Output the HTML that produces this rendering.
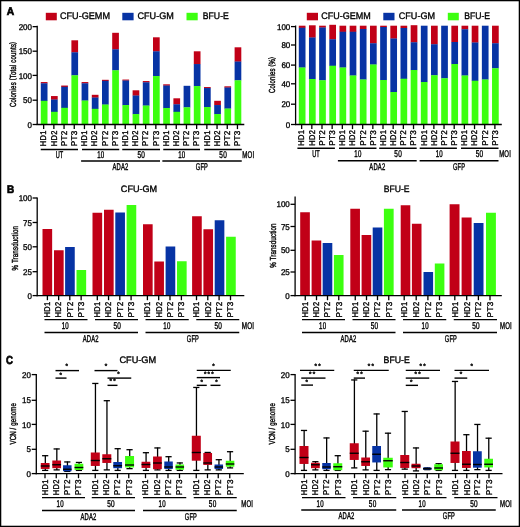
<!DOCTYPE html>
<html lang="en">
<head>
<meta charset="utf-8">
<title>Colony assays, transduction and VCN</title>
<style>
html,body{margin:0;padding:0;background:#fff;}
body{width:520px;height:527px;overflow:hidden;}
svg{display:block;}
svg text.cb{stroke-width:0.42px;letter-spacing:0.3px;}
svg text.yt{stroke-width:0.38px;letter-spacing:0.2px;}
svg text.nm{stroke-width:0.32px;}
svg text.tk{stroke-width:0.36px;letter-spacing:0.4px;}
svg text{font-family:"Liberation Sans",Arial,Helvetica,sans-serif;stroke:#000;stroke-width:0.36px;text-rendering:geometricPrecision;}
</style>
</head>
<body>
<svg width="520" height="527" viewBox="0 0 520 527">
<defs>
<filter id="soft" filterUnits="userSpaceOnUse" x="-12" y="-12" width="544" height="551" color-interpolation-filters="sRGB">
<feGaussianBlur stdDeviation="0.4"/>
</filter>
</defs>
<rect x="-10" y="-10" width="540" height="547" fill="#fff"/>
<g id="figure" filter="url(#soft)">
<rect x="-10" y="-10" width="540" height="547" fill="#fff"/>
<!-- Panel A: total counts -->
<rect x="40.8" y="82.05" width="6.7" height="1.45" fill="#c10017"/>
<rect x="40.8" y="83.3" width="6.7" height="17.7" fill="#0733a4"/>
<rect x="40.8" y="100.8" width="6.7" height="23.7" fill="#3dff10"/>
<rect x="51" y="96.05" width="6.7" height="3.7" fill="#c10017"/>
<rect x="51" y="99.55" width="6.7" height="12.45" fill="#0733a4"/>
<rect x="51" y="111.8" width="6.7" height="12.7" fill="#3dff10"/>
<rect x="61.2" y="85.55" width="6.7" height="1.45" fill="#c10017"/>
<rect x="61.2" y="86.8" width="6.7" height="21.2" fill="#0733a4"/>
<rect x="61.2" y="107.8" width="6.7" height="16.7" fill="#3dff10"/>
<rect x="71.4" y="40.3" width="6.7" height="12.2" fill="#c10017"/>
<rect x="71.4" y="52.3" width="6.7" height="23.2" fill="#0733a4"/>
<rect x="71.4" y="75.3" width="6.7" height="49.2" fill="#3dff10"/>
<rect x="81.6" y="82.05" width="6.7" height="1.45" fill="#c10017"/>
<rect x="81.6" y="83.3" width="6.7" height="17.45" fill="#0733a4"/>
<rect x="81.6" y="100.55" width="6.7" height="23.95" fill="#3dff10"/>
<rect x="91.8" y="94.8" width="6.7" height="2.95" fill="#c10017"/>
<rect x="91.8" y="97.55" width="6.7" height="11.45" fill="#0733a4"/>
<rect x="91.8" y="108.8" width="6.7" height="15.7" fill="#3dff10"/>
<rect x="102" y="79.8" width="6.7" height="1.2" fill="#c10017"/>
<rect x="102" y="80.8" width="6.7" height="23.95" fill="#0733a4"/>
<rect x="102" y="104.55" width="6.7" height="19.95" fill="#3dff10"/>
<rect x="112.2" y="32.8" width="6.7" height="16.7" fill="#c10017"/>
<rect x="112.2" y="49.3" width="6.7" height="21.2" fill="#0733a4"/>
<rect x="112.2" y="70.3" width="6.7" height="54.2" fill="#3dff10"/>
<rect x="122.4" y="79.55" width="6.7" height="1.2" fill="#c10017"/>
<rect x="122.4" y="80.55" width="6.7" height="24.7" fill="#0733a4"/>
<rect x="122.4" y="105.05" width="6.7" height="19.45" fill="#3dff10"/>
<rect x="132.6" y="90.3" width="6.7" height="5.45" fill="#c10017"/>
<rect x="132.6" y="95.55" width="6.7" height="18.7" fill="#0733a4"/>
<rect x="132.6" y="114.05" width="6.7" height="10.45" fill="#3dff10"/>
<rect x="142.8" y="81.05" width="6.7" height="1.45" fill="#c10017"/>
<rect x="142.8" y="82.3" width="6.7" height="23.45" fill="#0733a4"/>
<rect x="142.8" y="105.55" width="6.7" height="18.95" fill="#3dff10"/>
<rect x="153" y="37.3" width="6.7" height="14.2" fill="#c10017"/>
<rect x="153" y="51.3" width="6.7" height="24.95" fill="#0733a4"/>
<rect x="153" y="76.05" width="6.7" height="48.45" fill="#3dff10"/>
<rect x="163.2" y="84.3" width="6.7" height="1.45" fill="#c10017"/>
<rect x="163.2" y="85.55" width="6.7" height="22.7" fill="#0733a4"/>
<rect x="163.2" y="108.05" width="6.7" height="16.45" fill="#3dff10"/>
<rect x="173.4" y="98.3" width="6.7" height="6.2" fill="#c10017"/>
<rect x="173.4" y="104.3" width="6.7" height="7.7" fill="#0733a4"/>
<rect x="173.4" y="111.8" width="6.7" height="12.7" fill="#3dff10"/>
<rect x="183.6" y="85.8" width="6.7" height="21.7" fill="#0733a4"/>
<rect x="183.6" y="107.3" width="6.7" height="17.2" fill="#3dff10"/>
<rect x="193.8" y="51.3" width="6.7" height="12.95" fill="#c10017"/>
<rect x="193.8" y="64.05" width="6.7" height="22.2" fill="#0733a4"/>
<rect x="193.8" y="86.05" width="6.7" height="38.45" fill="#3dff10"/>
<rect x="204" y="87.05" width="6.7" height="1.2" fill="#c10017"/>
<rect x="204" y="88.05" width="6.7" height="19.2" fill="#0733a4"/>
<rect x="204" y="107.05" width="6.7" height="17.45" fill="#3dff10"/>
<rect x="214.2" y="100.8" width="6.7" height="4.45" fill="#c10017"/>
<rect x="214.2" y="105.05" width="6.7" height="9.2" fill="#0733a4"/>
<rect x="214.2" y="114.05" width="6.7" height="10.45" fill="#3dff10"/>
<rect x="224.4" y="86.3" width="6.7" height="1.45" fill="#c10017"/>
<rect x="224.4" y="87.55" width="6.7" height="21.2" fill="#0733a4"/>
<rect x="224.4" y="108.55" width="6.7" height="15.95" fill="#3dff10"/>
<rect x="234.6" y="47.3" width="6.7" height="14.45" fill="#c10017"/>
<rect x="234.6" y="61.55" width="6.7" height="18.95" fill="#0733a4"/>
<rect x="234.6" y="80.3" width="6.7" height="44.2" fill="#3dff10"/>
<line x1="37.2" y1="25.8" x2="37.2" y2="125.05" stroke="#000" stroke-width="1.3"/>
<line x1="32.6" y1="26.65" x2="37.2" y2="26.65" stroke="#000" stroke-width="1.3"/>
<text x="32" y="29.75" font-size="8.3" text-anchor="end" textLength="13.35" lengthAdjust="spacingAndGlyphs" class="nm">200</text>
<line x1="32.6" y1="51.2" x2="37.2" y2="51.2" stroke="#000" stroke-width="1.3"/>
<text x="32" y="54.3" font-size="8.3" text-anchor="end" textLength="13.35" lengthAdjust="spacingAndGlyphs" class="nm">150</text>
<line x1="32.6" y1="75.4" x2="37.2" y2="75.4" stroke="#000" stroke-width="1.3"/>
<text x="32" y="78.5" font-size="8.3" text-anchor="end" textLength="13.35" lengthAdjust="spacingAndGlyphs" class="nm">100</text>
<line x1="32.6" y1="100.2" x2="37.2" y2="100.2" stroke="#000" stroke-width="1.3"/>
<text x="32" y="103.3" font-size="8.3" text-anchor="end" textLength="8.9" lengthAdjust="spacingAndGlyphs" class="nm">50</text>
<line x1="32.6" y1="124.5" x2="37.2" y2="124.5" stroke="#000" stroke-width="1.3"/>
<text x="32" y="127.6" font-size="8.3" text-anchor="end" textLength="4.45" lengthAdjust="spacingAndGlyphs" class="nm">0</text>
<line x1="36.55" y1="124.5" x2="244.3" y2="124.5" stroke="#000" stroke-width="1.3"/>
<line x1="43.65" y1="124.5" x2="43.65" y2="129.1" stroke="#000" stroke-width="1.3"/>
<line x1="53.85" y1="124.5" x2="53.85" y2="129.1" stroke="#000" stroke-width="1.3"/>
<line x1="64.05" y1="124.5" x2="64.05" y2="129.1" stroke="#000" stroke-width="1.3"/>
<line x1="74.25" y1="124.5" x2="74.25" y2="129.1" stroke="#000" stroke-width="1.3"/>
<line x1="84.45" y1="124.5" x2="84.45" y2="129.1" stroke="#000" stroke-width="1.3"/>
<line x1="94.65" y1="124.5" x2="94.65" y2="129.1" stroke="#000" stroke-width="1.3"/>
<line x1="104.85" y1="124.5" x2="104.85" y2="129.1" stroke="#000" stroke-width="1.3"/>
<line x1="115.05" y1="124.5" x2="115.05" y2="129.1" stroke="#000" stroke-width="1.3"/>
<line x1="125.25" y1="124.5" x2="125.25" y2="129.1" stroke="#000" stroke-width="1.3"/>
<line x1="135.45" y1="124.5" x2="135.45" y2="129.1" stroke="#000" stroke-width="1.3"/>
<line x1="145.65" y1="124.5" x2="145.65" y2="129.1" stroke="#000" stroke-width="1.3"/>
<line x1="155.85" y1="124.5" x2="155.85" y2="129.1" stroke="#000" stroke-width="1.3"/>
<line x1="166.05" y1="124.5" x2="166.05" y2="129.1" stroke="#000" stroke-width="1.3"/>
<line x1="176.25" y1="124.5" x2="176.25" y2="129.1" stroke="#000" stroke-width="1.3"/>
<line x1="186.45" y1="124.5" x2="186.45" y2="129.1" stroke="#000" stroke-width="1.3"/>
<line x1="196.65" y1="124.5" x2="196.65" y2="129.1" stroke="#000" stroke-width="1.3"/>
<line x1="206.85" y1="124.5" x2="206.85" y2="129.1" stroke="#000" stroke-width="1.3"/>
<line x1="217.05" y1="124.5" x2="217.05" y2="129.1" stroke="#000" stroke-width="1.3"/>
<line x1="227.25" y1="124.5" x2="227.25" y2="129.1" stroke="#000" stroke-width="1.3"/>
<line x1="237.45" y1="124.5" x2="237.45" y2="129.1" stroke="#000" stroke-width="1.3"/>
<text x="46.5" y="146.3" font-size="8.4" text-anchor="start" textLength="16" lengthAdjust="spacingAndGlyphs" transform="rotate(-90 46.5 146.3)" class="tk">HD1</text>
<text x="56.7" y="146.3" font-size="8.4" text-anchor="start" textLength="16" lengthAdjust="spacingAndGlyphs" transform="rotate(-90 56.7 146.3)" class="tk">HD2</text>
<text x="66.9" y="146.3" font-size="8.4" text-anchor="start" textLength="16" lengthAdjust="spacingAndGlyphs" transform="rotate(-90 66.9 146.3)" class="tk">PT2</text>
<text x="77.1" y="146.3" font-size="8.4" text-anchor="start" textLength="16" lengthAdjust="spacingAndGlyphs" transform="rotate(-90 77.1 146.3)" class="tk">PT3</text>
<text x="87.3" y="146.3" font-size="8.4" text-anchor="start" textLength="16" lengthAdjust="spacingAndGlyphs" transform="rotate(-90 87.3 146.3)" class="tk">HD1</text>
<text x="97.5" y="146.3" font-size="8.4" text-anchor="start" textLength="16" lengthAdjust="spacingAndGlyphs" transform="rotate(-90 97.5 146.3)" class="tk">HD2</text>
<text x="107.7" y="146.3" font-size="8.4" text-anchor="start" textLength="16" lengthAdjust="spacingAndGlyphs" transform="rotate(-90 107.7 146.3)" class="tk">PT2</text>
<text x="117.9" y="146.3" font-size="8.4" text-anchor="start" textLength="16" lengthAdjust="spacingAndGlyphs" transform="rotate(-90 117.9 146.3)" class="tk">PT3</text>
<text x="128.1" y="146.3" font-size="8.4" text-anchor="start" textLength="16" lengthAdjust="spacingAndGlyphs" transform="rotate(-90 128.1 146.3)" class="tk">HD1</text>
<text x="138.3" y="146.3" font-size="8.4" text-anchor="start" textLength="16" lengthAdjust="spacingAndGlyphs" transform="rotate(-90 138.3 146.3)" class="tk">HD2</text>
<text x="148.5" y="146.3" font-size="8.4" text-anchor="start" textLength="16" lengthAdjust="spacingAndGlyphs" transform="rotate(-90 148.5 146.3)" class="tk">PT2</text>
<text x="158.7" y="146.3" font-size="8.4" text-anchor="start" textLength="16" lengthAdjust="spacingAndGlyphs" transform="rotate(-90 158.7 146.3)" class="tk">PT3</text>
<text x="168.9" y="146.3" font-size="8.4" text-anchor="start" textLength="16" lengthAdjust="spacingAndGlyphs" transform="rotate(-90 168.9 146.3)" class="tk">HD1</text>
<text x="179.1" y="146.3" font-size="8.4" text-anchor="start" textLength="16" lengthAdjust="spacingAndGlyphs" transform="rotate(-90 179.1 146.3)" class="tk">HD2</text>
<text x="189.3" y="146.3" font-size="8.4" text-anchor="start" textLength="16" lengthAdjust="spacingAndGlyphs" transform="rotate(-90 189.3 146.3)" class="tk">PT2</text>
<text x="199.5" y="146.3" font-size="8.4" text-anchor="start" textLength="16" lengthAdjust="spacingAndGlyphs" transform="rotate(-90 199.5 146.3)" class="tk">PT3</text>
<text x="209.7" y="146.3" font-size="8.4" text-anchor="start" textLength="16" lengthAdjust="spacingAndGlyphs" transform="rotate(-90 209.7 146.3)" class="tk">HD1</text>
<text x="219.9" y="146.3" font-size="8.4" text-anchor="start" textLength="16" lengthAdjust="spacingAndGlyphs" transform="rotate(-90 219.9 146.3)" class="tk">HD2</text>
<text x="230.1" y="146.3" font-size="8.4" text-anchor="start" textLength="16" lengthAdjust="spacingAndGlyphs" transform="rotate(-90 230.1 146.3)" class="tk">PT2</text>
<text x="240.3" y="146.3" font-size="8.4" text-anchor="start" textLength="16" lengthAdjust="spacingAndGlyphs" transform="rotate(-90 240.3 146.3)" class="tk">PT3</text>
<line x1="40.75" y1="149.55" x2="78" y2="149.55" stroke="#000" stroke-width="1.4"/>
<line x1="82" y1="149.55" x2="119.25" y2="149.55" stroke="#000" stroke-width="1.4"/>
<line x1="122.25" y1="149.55" x2="160" y2="149.55" stroke="#000" stroke-width="1.4"/>
<line x1="163.25" y1="149.55" x2="200" y2="149.55" stroke="#000" stroke-width="1.4"/>
<line x1="204.25" y1="149.55" x2="241.75" y2="149.55" stroke="#000" stroke-width="1.4"/>
<text x="59.55" y="158.3" font-size="9.8" text-anchor="middle" textLength="7.79" lengthAdjust="spacingAndGlyphs" class="cb">UT</text>
<text x="100.75" y="158.3" font-size="9.8" text-anchor="middle" textLength="7.16" lengthAdjust="spacingAndGlyphs" class="cb">10</text>
<text x="141.25" y="158.3" font-size="9.8" text-anchor="middle" textLength="7.58" lengthAdjust="spacingAndGlyphs" class="cb">50</text>
<text x="181.75" y="158.3" font-size="9.8" text-anchor="middle" textLength="7.16" lengthAdjust="spacingAndGlyphs" class="cb">10</text>
<text x="223.15" y="158.3" font-size="9.8" text-anchor="middle" textLength="7.58" lengthAdjust="spacingAndGlyphs" class="cb">50</text>
<line x1="81.1" y1="161.1" x2="160" y2="161.1" stroke="#000" stroke-width="1.5"/>
<line x1="162.35" y1="161.1" x2="241.75" y2="161.1" stroke="#000" stroke-width="1.5"/>
<text x="120.45" y="169.9" font-size="9.8" text-anchor="middle" textLength="16.1" lengthAdjust="spacingAndGlyphs" class="cb">ADA2</text>
<text x="201.95" y="169.9" font-size="9.8" text-anchor="middle" textLength="12.3" lengthAdjust="spacingAndGlyphs" class="cb">GFP</text>
<text x="242.3" y="158.3" font-size="9.8" text-anchor="start" textLength="12.1" lengthAdjust="spacingAndGlyphs" class="cb">MOI</text>
<text x="16.3" y="74.5" font-size="8.8" text-anchor="middle" textLength="65.2" lengthAdjust="spacingAndGlyphs" transform="rotate(-90 16.3 74.5)" class="yt">Colonies <tspan dy="-0.8" font-size="8.0">(</tspan><tspan dy="0.8">Total counts</tspan><tspan dy="-0.8" font-size="8.0">)</tspan></text>
<rect x="45.8" y="12.8" width="11" height="7.5" fill="#c10017"/>
<text x="60" y="19.3" font-size="9.5" text-anchor="start" textLength="50" lengthAdjust="spacingAndGlyphs">CFU-GEMM</text>
<rect x="122.3" y="12.8" width="11.3" height="7.5" fill="#0733a4"/>
<text x="137.5" y="19.3" font-size="9.5" text-anchor="start" textLength="36.3" lengthAdjust="spacingAndGlyphs">CFU-GM</text>
<rect x="186.5" y="12.8" width="11.2" height="7.5" fill="#3dff10"/>
<text x="202.8" y="19.3" font-size="9.5" text-anchor="start" textLength="26" lengthAdjust="spacingAndGlyphs">BFU-E</text>
<text x="6.8" y="15" font-size="11" text-anchor="start" font-weight="bold" textLength="7.4" lengthAdjust="spacingAndGlyphs" style="stroke-width:0.7px">A</text>
<!-- Panel A: percent -->
<rect x="298.8" y="25.7" width="6.7" height="2.25" fill="#c10017"/>
<rect x="298.8" y="27.75" width="6.7" height="39.95" fill="#0733a4"/>
<rect x="298.8" y="67.5" width="6.7" height="57" fill="#3dff10"/>
<rect x="308.97" y="25.3" width="6.7" height="12.4" fill="#c10017"/>
<rect x="308.97" y="37.5" width="6.7" height="41.7" fill="#0733a4"/>
<rect x="308.97" y="79" width="6.7" height="45.5" fill="#3dff10"/>
<rect x="319.14" y="25.7" width="6.7" height="2" fill="#c10017"/>
<rect x="319.14" y="27.5" width="6.7" height="52.95" fill="#0733a4"/>
<rect x="319.14" y="80.25" width="6.7" height="44.25" fill="#3dff10"/>
<rect x="329.31" y="24.8" width="6.7" height="14.65" fill="#c10017"/>
<rect x="329.31" y="39.25" width="6.7" height="26.7" fill="#0733a4"/>
<rect x="329.31" y="65.75" width="6.7" height="58.75" fill="#3dff10"/>
<rect x="339.48" y="25.7" width="6.7" height="6.25" fill="#c10017"/>
<rect x="339.48" y="31.75" width="6.7" height="35.95" fill="#0733a4"/>
<rect x="339.48" y="67.5" width="6.7" height="57" fill="#3dff10"/>
<rect x="349.65" y="25.7" width="6.7" height="6.25" fill="#c10017"/>
<rect x="349.65" y="31.75" width="6.7" height="43.95" fill="#0733a4"/>
<rect x="349.65" y="75.5" width="6.7" height="49" fill="#3dff10"/>
<rect x="359.82" y="25.7" width="6.7" height="3.5" fill="#c10017"/>
<rect x="359.82" y="29" width="6.7" height="50.7" fill="#0733a4"/>
<rect x="359.82" y="79.5" width="6.7" height="45" fill="#3dff10"/>
<rect x="369.99" y="25.7" width="6.7" height="17.75" fill="#c10017"/>
<rect x="369.99" y="43.25" width="6.7" height="21.45" fill="#0733a4"/>
<rect x="369.99" y="64.5" width="6.7" height="60" fill="#3dff10"/>
<rect x="380.16" y="25.7" width="6.7" height="1.5" fill="#c10017"/>
<rect x="380.16" y="27" width="6.7" height="53.2" fill="#0733a4"/>
<rect x="380.16" y="80" width="6.7" height="44.5" fill="#3dff10"/>
<rect x="390.33" y="25.7" width="6.7" height="13" fill="#c10017"/>
<rect x="390.33" y="38.5" width="6.7" height="53.7" fill="#0733a4"/>
<rect x="390.33" y="92" width="6.7" height="32.5" fill="#3dff10"/>
<rect x="400.5" y="25.7" width="6.7" height="2.5" fill="#c10017"/>
<rect x="400.5" y="28" width="6.7" height="50.95" fill="#0733a4"/>
<rect x="400.5" y="78.75" width="6.7" height="45.75" fill="#3dff10"/>
<rect x="410.67" y="25.2" width="6.7" height="17.25" fill="#c10017"/>
<rect x="410.67" y="42.25" width="6.7" height="27.95" fill="#0733a4"/>
<rect x="410.67" y="70" width="6.7" height="54.5" fill="#3dff10"/>
<rect x="420.84" y="25.7" width="6.7" height="56.5" fill="#0733a4"/>
<rect x="420.84" y="82" width="6.7" height="42.5" fill="#3dff10"/>
<rect x="431.01" y="25.7" width="6.7" height="18.75" fill="#c10017"/>
<rect x="431.01" y="44.25" width="6.7" height="31.2" fill="#0733a4"/>
<rect x="431.01" y="75.25" width="6.7" height="49.25" fill="#3dff10"/>
<rect x="441.18" y="25.7" width="6.7" height="52.75" fill="#0733a4"/>
<rect x="441.18" y="78.25" width="6.7" height="46.25" fill="#3dff10"/>
<rect x="451.35" y="25.7" width="6.7" height="16.5" fill="#c10017"/>
<rect x="451.35" y="42" width="6.7" height="22.2" fill="#0733a4"/>
<rect x="451.35" y="64" width="6.7" height="60.5" fill="#3dff10"/>
<rect x="461.52" y="25.7" width="6.7" height="3.75" fill="#c10017"/>
<rect x="461.52" y="29.25" width="6.7" height="46.45" fill="#0733a4"/>
<rect x="461.52" y="75.5" width="6.7" height="49" fill="#3dff10"/>
<rect x="471.69" y="25.7" width="6.7" height="17" fill="#c10017"/>
<rect x="471.69" y="42.5" width="6.7" height="38.45" fill="#0733a4"/>
<rect x="471.69" y="80.75" width="6.7" height="43.75" fill="#3dff10"/>
<rect x="481.86" y="25.7" width="6.7" height="54" fill="#0733a4"/>
<rect x="481.86" y="79.5" width="6.7" height="45" fill="#3dff10"/>
<rect x="492.03" y="25.7" width="6.7" height="17.75" fill="#c10017"/>
<rect x="492.03" y="43.25" width="6.7" height="25.2" fill="#0733a4"/>
<rect x="492.03" y="68.25" width="6.7" height="56.25" fill="#3dff10"/>
<line x1="295.6" y1="25.5" x2="295.6" y2="125.05" stroke="#000" stroke-width="1.3"/>
<line x1="291" y1="26.6" x2="295.6" y2="26.6" stroke="#000" stroke-width="1.3"/>
<text x="290.3" y="29.7" font-size="8.3" text-anchor="end" textLength="13.35" lengthAdjust="spacingAndGlyphs" class="nm">100</text>
<line x1="291" y1="45" x2="295.6" y2="45" stroke="#000" stroke-width="1.3"/>
<text x="290.3" y="48.1" font-size="8.3" text-anchor="end" textLength="8.9" lengthAdjust="spacingAndGlyphs" class="nm">80</text>
<line x1="291" y1="65.1" x2="295.6" y2="65.1" stroke="#000" stroke-width="1.3"/>
<text x="290.3" y="68.2" font-size="8.3" text-anchor="end" textLength="8.9" lengthAdjust="spacingAndGlyphs" class="nm">60</text>
<line x1="291" y1="83.8" x2="295.6" y2="83.8" stroke="#000" stroke-width="1.3"/>
<text x="290.3" y="86.9" font-size="8.3" text-anchor="end" textLength="8.9" lengthAdjust="spacingAndGlyphs" class="nm">40</text>
<line x1="291" y1="104.2" x2="295.6" y2="104.2" stroke="#000" stroke-width="1.3"/>
<text x="290.3" y="107.3" font-size="8.3" text-anchor="end" textLength="8.9" lengthAdjust="spacingAndGlyphs" class="nm">20</text>
<line x1="291" y1="124.5" x2="295.6" y2="124.5" stroke="#000" stroke-width="1.3"/>
<text x="290.3" y="127.6" font-size="8.3" text-anchor="end" textLength="4.45" lengthAdjust="spacingAndGlyphs" class="nm">0</text>
<line x1="294.95" y1="124.5" x2="501.8" y2="124.5" stroke="#000" stroke-width="1.3"/>
<line x1="301.65" y1="124.5" x2="301.65" y2="129.1" stroke="#000" stroke-width="1.3"/>
<line x1="311.82" y1="124.5" x2="311.82" y2="129.1" stroke="#000" stroke-width="1.3"/>
<line x1="321.99" y1="124.5" x2="321.99" y2="129.1" stroke="#000" stroke-width="1.3"/>
<line x1="332.16" y1="124.5" x2="332.16" y2="129.1" stroke="#000" stroke-width="1.3"/>
<line x1="342.33" y1="124.5" x2="342.33" y2="129.1" stroke="#000" stroke-width="1.3"/>
<line x1="352.5" y1="124.5" x2="352.5" y2="129.1" stroke="#000" stroke-width="1.3"/>
<line x1="362.67" y1="124.5" x2="362.67" y2="129.1" stroke="#000" stroke-width="1.3"/>
<line x1="372.84" y1="124.5" x2="372.84" y2="129.1" stroke="#000" stroke-width="1.3"/>
<line x1="383.01" y1="124.5" x2="383.01" y2="129.1" stroke="#000" stroke-width="1.3"/>
<line x1="393.18" y1="124.5" x2="393.18" y2="129.1" stroke="#000" stroke-width="1.3"/>
<line x1="403.35" y1="124.5" x2="403.35" y2="129.1" stroke="#000" stroke-width="1.3"/>
<line x1="413.52" y1="124.5" x2="413.52" y2="129.1" stroke="#000" stroke-width="1.3"/>
<line x1="423.69" y1="124.5" x2="423.69" y2="129.1" stroke="#000" stroke-width="1.3"/>
<line x1="433.86" y1="124.5" x2="433.86" y2="129.1" stroke="#000" stroke-width="1.3"/>
<line x1="444.03" y1="124.5" x2="444.03" y2="129.1" stroke="#000" stroke-width="1.3"/>
<line x1="454.2" y1="124.5" x2="454.2" y2="129.1" stroke="#000" stroke-width="1.3"/>
<line x1="464.37" y1="124.5" x2="464.37" y2="129.1" stroke="#000" stroke-width="1.3"/>
<line x1="474.54" y1="124.5" x2="474.54" y2="129.1" stroke="#000" stroke-width="1.3"/>
<line x1="484.71" y1="124.5" x2="484.71" y2="129.1" stroke="#000" stroke-width="1.3"/>
<line x1="494.88" y1="124.5" x2="494.88" y2="129.1" stroke="#000" stroke-width="1.3"/>
<text x="304.5" y="145.8" font-size="8.4" text-anchor="start" textLength="16" lengthAdjust="spacingAndGlyphs" transform="rotate(-90 304.5 145.8)" class="tk">HD1</text>
<text x="314.67" y="145.8" font-size="8.4" text-anchor="start" textLength="16" lengthAdjust="spacingAndGlyphs" transform="rotate(-90 314.67 145.8)" class="tk">HD2</text>
<text x="324.84" y="145.8" font-size="8.4" text-anchor="start" textLength="16" lengthAdjust="spacingAndGlyphs" transform="rotate(-90 324.84 145.8)" class="tk">PT2</text>
<text x="335.01" y="145.8" font-size="8.4" text-anchor="start" textLength="16" lengthAdjust="spacingAndGlyphs" transform="rotate(-90 335.01 145.8)" class="tk">PT3</text>
<text x="345.18" y="145.8" font-size="8.4" text-anchor="start" textLength="16" lengthAdjust="spacingAndGlyphs" transform="rotate(-90 345.18 145.8)" class="tk">HD1</text>
<text x="355.35" y="145.8" font-size="8.4" text-anchor="start" textLength="16" lengthAdjust="spacingAndGlyphs" transform="rotate(-90 355.35 145.8)" class="tk">HD2</text>
<text x="365.52" y="145.8" font-size="8.4" text-anchor="start" textLength="16" lengthAdjust="spacingAndGlyphs" transform="rotate(-90 365.52 145.8)" class="tk">PT2</text>
<text x="375.69" y="145.8" font-size="8.4" text-anchor="start" textLength="16" lengthAdjust="spacingAndGlyphs" transform="rotate(-90 375.69 145.8)" class="tk">PT3</text>
<text x="385.86" y="145.8" font-size="8.4" text-anchor="start" textLength="16" lengthAdjust="spacingAndGlyphs" transform="rotate(-90 385.86 145.8)" class="tk">HD1</text>
<text x="396.03" y="145.8" font-size="8.4" text-anchor="start" textLength="16" lengthAdjust="spacingAndGlyphs" transform="rotate(-90 396.03 145.8)" class="tk">HD2</text>
<text x="406.2" y="145.8" font-size="8.4" text-anchor="start" textLength="16" lengthAdjust="spacingAndGlyphs" transform="rotate(-90 406.2 145.8)" class="tk">PT2</text>
<text x="416.37" y="145.8" font-size="8.4" text-anchor="start" textLength="16" lengthAdjust="spacingAndGlyphs" transform="rotate(-90 416.37 145.8)" class="tk">PT3</text>
<text x="426.54" y="145.8" font-size="8.4" text-anchor="start" textLength="16" lengthAdjust="spacingAndGlyphs" transform="rotate(-90 426.54 145.8)" class="tk">HD1</text>
<text x="436.71" y="145.8" font-size="8.4" text-anchor="start" textLength="16" lengthAdjust="spacingAndGlyphs" transform="rotate(-90 436.71 145.8)" class="tk">HD2</text>
<text x="446.88" y="145.8" font-size="8.4" text-anchor="start" textLength="16" lengthAdjust="spacingAndGlyphs" transform="rotate(-90 446.88 145.8)" class="tk">PT2</text>
<text x="457.05" y="145.8" font-size="8.4" text-anchor="start" textLength="16" lengthAdjust="spacingAndGlyphs" transform="rotate(-90 457.05 145.8)" class="tk">PT3</text>
<text x="467.22" y="145.8" font-size="8.4" text-anchor="start" textLength="16" lengthAdjust="spacingAndGlyphs" transform="rotate(-90 467.22 145.8)" class="tk">HD1</text>
<text x="477.39" y="145.8" font-size="8.4" text-anchor="start" textLength="16" lengthAdjust="spacingAndGlyphs" transform="rotate(-90 477.39 145.8)" class="tk">HD2</text>
<text x="487.56" y="145.8" font-size="8.4" text-anchor="start" textLength="16" lengthAdjust="spacingAndGlyphs" transform="rotate(-90 487.56 145.8)" class="tk">PT2</text>
<text x="497.73" y="145.8" font-size="8.4" text-anchor="start" textLength="16" lengthAdjust="spacingAndGlyphs" transform="rotate(-90 497.73 145.8)" class="tk">PT3</text>
<line x1="297.4" y1="148.2" x2="334.9" y2="148.2" stroke="#000" stroke-width="1.4"/>
<line x1="339" y1="148.2" x2="376.5" y2="148.2" stroke="#000" stroke-width="1.4"/>
<line x1="379.2" y1="148.2" x2="416.7" y2="148.2" stroke="#000" stroke-width="1.4"/>
<line x1="419.7" y1="148.2" x2="456.9" y2="148.2" stroke="#000" stroke-width="1.4"/>
<line x1="461" y1="148.2" x2="498.5" y2="148.2" stroke="#000" stroke-width="1.4"/>
<text x="316.05" y="157.3" font-size="9.8" text-anchor="middle" textLength="7.79" lengthAdjust="spacingAndGlyphs" class="cb">UT</text>
<text x="357.95" y="157.3" font-size="9.8" text-anchor="middle" textLength="7.16" lengthAdjust="spacingAndGlyphs" class="cb">10</text>
<text x="398.15" y="157.3" font-size="9.8" text-anchor="middle" textLength="7.58" lengthAdjust="spacingAndGlyphs" class="cb">50</text>
<text x="439.35" y="157.3" font-size="9.8" text-anchor="middle" textLength="7.16" lengthAdjust="spacingAndGlyphs" class="cb">10</text>
<text x="479.45" y="157.3" font-size="9.8" text-anchor="middle" textLength="7.58" lengthAdjust="spacingAndGlyphs" class="cb">50</text>
<line x1="337.9" y1="160.8" x2="416.7" y2="160.8" stroke="#000" stroke-width="1.5"/>
<line x1="419.6" y1="160.8" x2="498.5" y2="160.8" stroke="#000" stroke-width="1.5"/>
<text x="377.35" y="169.9" font-size="9.8" text-anchor="middle" textLength="16.1" lengthAdjust="spacingAndGlyphs" class="cb">ADA2</text>
<text x="459.05" y="169.9" font-size="9.8" text-anchor="middle" textLength="12.3" lengthAdjust="spacingAndGlyphs" class="cb">GFP</text>
<text x="499.2" y="157.3" font-size="9.8" text-anchor="start" textLength="11.8" lengthAdjust="spacingAndGlyphs" class="cb">MOI</text>
<text x="275.2" y="75" font-size="8.8" text-anchor="middle" textLength="36" lengthAdjust="spacingAndGlyphs" transform="rotate(-90 275.2 75)" class="yt">Colonies <tspan dy="-0.8" font-size="8.0">(</tspan><tspan dy="0.8">%</tspan><tspan dy="-0.8" font-size="8.0">)</tspan></text>
<rect x="306.8" y="12.8" width="11.2" height="7.5" fill="#c10017"/>
<text x="321.3" y="19.3" font-size="9.5" text-anchor="start" textLength="49.5" lengthAdjust="spacingAndGlyphs">CFU-GEMM</text>
<rect x="383.3" y="12.8" width="11.2" height="7.5" fill="#0733a4"/>
<text x="398.8" y="19.3" font-size="9.5" text-anchor="start" textLength="36.2" lengthAdjust="spacingAndGlyphs">CFU-GM</text>
<rect x="447.8" y="12.8" width="11" height="7.5" fill="#3dff10"/>
<text x="464.3" y="19.3" font-size="9.5" text-anchor="start" textLength="25.8" lengthAdjust="spacingAndGlyphs">BFU-E</text>
<!-- Panel B: CFU-GM transduction -->
<rect x="42.5" y="229" width="9.65" height="66.6" fill="#c10017"/>
<rect x="54" y="250.25" width="9.65" height="45.35" fill="#c10017"/>
<rect x="65.1" y="247" width="9.65" height="48.6" fill="#0733a4"/>
<rect x="76.5" y="270" width="9.65" height="25.6" fill="#3dff10"/>
<rect x="92.5" y="212.75" width="9.65" height="82.85" fill="#c10017"/>
<rect x="104" y="209.75" width="9.65" height="85.85" fill="#c10017"/>
<rect x="115.3" y="212.5" width="9.65" height="83.1" fill="#0733a4"/>
<rect x="126.6" y="205" width="9.65" height="90.6" fill="#3dff10"/>
<rect x="143" y="224.25" width="9.65" height="71.35" fill="#c10017"/>
<rect x="154.3" y="261.5" width="9.65" height="34.1" fill="#c10017"/>
<rect x="165.6" y="246.5" width="9.65" height="49.1" fill="#0733a4"/>
<rect x="177" y="261.25" width="9.65" height="34.35" fill="#3dff10"/>
<rect x="192.1" y="216.25" width="9.65" height="79.35" fill="#c10017"/>
<rect x="203.4" y="229.25" width="9.65" height="66.35" fill="#c10017"/>
<rect x="214.7" y="220.25" width="9.65" height="75.35" fill="#0733a4"/>
<rect x="226.1" y="236.75" width="9.65" height="58.85" fill="#3dff10"/>
<line x1="37.2" y1="197.5" x2="37.2" y2="296.15" stroke="#000" stroke-width="1.3"/>
<line x1="32.6" y1="198" x2="37.2" y2="198" stroke="#000" stroke-width="1.3"/>
<text x="32" y="201.1" font-size="8.3" text-anchor="end" textLength="13.35" lengthAdjust="spacingAndGlyphs" class="nm">100</text>
<line x1="32.6" y1="222.5" x2="37.2" y2="222.5" stroke="#000" stroke-width="1.3"/>
<text x="32" y="225.6" font-size="8.3" text-anchor="end" textLength="8.9" lengthAdjust="spacingAndGlyphs" class="nm">75</text>
<line x1="32.6" y1="246.8" x2="37.2" y2="246.8" stroke="#000" stroke-width="1.3"/>
<text x="32" y="249.9" font-size="8.3" text-anchor="end" textLength="8.9" lengthAdjust="spacingAndGlyphs" class="nm">50</text>
<line x1="32.6" y1="271.7" x2="37.2" y2="271.7" stroke="#000" stroke-width="1.3"/>
<text x="32" y="274.8" font-size="8.3" text-anchor="end" textLength="8.9" lengthAdjust="spacingAndGlyphs" class="nm">25</text>
<line x1="32.6" y1="295.6" x2="37.2" y2="295.6" stroke="#000" stroke-width="1.3"/>
<text x="32" y="298.7" font-size="8.3" text-anchor="end" textLength="4.45" lengthAdjust="spacingAndGlyphs" class="nm">0</text>
<line x1="36.55" y1="295.6" x2="244.3" y2="295.6" stroke="#000" stroke-width="1.3"/>
<line x1="47.4" y1="295.6" x2="47.4" y2="300.2" stroke="#000" stroke-width="1.3"/>
<line x1="58.65" y1="295.6" x2="58.65" y2="300.2" stroke="#000" stroke-width="1.3"/>
<line x1="69.8" y1="295.6" x2="69.8" y2="300.2" stroke="#000" stroke-width="1.3"/>
<line x1="81.15" y1="295.6" x2="81.15" y2="300.2" stroke="#000" stroke-width="1.3"/>
<line x1="97.3" y1="295.6" x2="97.3" y2="300.2" stroke="#000" stroke-width="1.3"/>
<line x1="108.55" y1="295.6" x2="108.55" y2="300.2" stroke="#000" stroke-width="1.3"/>
<line x1="119.8" y1="295.6" x2="119.8" y2="300.2" stroke="#000" stroke-width="1.3"/>
<line x1="131.1" y1="295.6" x2="131.1" y2="300.2" stroke="#000" stroke-width="1.3"/>
<line x1="147.4" y1="295.6" x2="147.4" y2="300.2" stroke="#000" stroke-width="1.3"/>
<line x1="158.7" y1="295.6" x2="158.7" y2="300.2" stroke="#000" stroke-width="1.3"/>
<line x1="170" y1="295.6" x2="170" y2="300.2" stroke="#000" stroke-width="1.3"/>
<line x1="181.4" y1="295.6" x2="181.4" y2="300.2" stroke="#000" stroke-width="1.3"/>
<line x1="196.5" y1="295.6" x2="196.5" y2="300.2" stroke="#000" stroke-width="1.3"/>
<line x1="207.8" y1="295.6" x2="207.8" y2="300.2" stroke="#000" stroke-width="1.3"/>
<line x1="219.1" y1="295.6" x2="219.1" y2="300.2" stroke="#000" stroke-width="1.3"/>
<line x1="230.5" y1="295.6" x2="230.5" y2="300.2" stroke="#000" stroke-width="1.3"/>
<text x="50.25" y="317.4" font-size="8.4" text-anchor="start" textLength="16" lengthAdjust="spacingAndGlyphs" transform="rotate(-90 50.25 317.4)" class="tk">HD1</text>
<text x="61.5" y="317.4" font-size="8.4" text-anchor="start" textLength="16" lengthAdjust="spacingAndGlyphs" transform="rotate(-90 61.5 317.4)" class="tk">HD2</text>
<text x="72.65" y="317.4" font-size="8.4" text-anchor="start" textLength="16" lengthAdjust="spacingAndGlyphs" transform="rotate(-90 72.65 317.4)" class="tk">PT2</text>
<text x="84" y="317.4" font-size="8.4" text-anchor="start" textLength="16" lengthAdjust="spacingAndGlyphs" transform="rotate(-90 84 317.4)" class="tk">PT3</text>
<text x="100.15" y="317.4" font-size="8.4" text-anchor="start" textLength="16" lengthAdjust="spacingAndGlyphs" transform="rotate(-90 100.15 317.4)" class="tk">HD1</text>
<text x="111.4" y="317.4" font-size="8.4" text-anchor="start" textLength="16" lengthAdjust="spacingAndGlyphs" transform="rotate(-90 111.4 317.4)" class="tk">HD2</text>
<text x="122.65" y="317.4" font-size="8.4" text-anchor="start" textLength="16" lengthAdjust="spacingAndGlyphs" transform="rotate(-90 122.65 317.4)" class="tk">PT2</text>
<text x="133.95" y="317.4" font-size="8.4" text-anchor="start" textLength="16" lengthAdjust="spacingAndGlyphs" transform="rotate(-90 133.95 317.4)" class="tk">PT3</text>
<text x="150.25" y="317.4" font-size="8.4" text-anchor="start" textLength="16" lengthAdjust="spacingAndGlyphs" transform="rotate(-90 150.25 317.4)" class="tk">HD1</text>
<text x="161.55" y="317.4" font-size="8.4" text-anchor="start" textLength="16" lengthAdjust="spacingAndGlyphs" transform="rotate(-90 161.55 317.4)" class="tk">HD2</text>
<text x="172.85" y="317.4" font-size="8.4" text-anchor="start" textLength="16" lengthAdjust="spacingAndGlyphs" transform="rotate(-90 172.85 317.4)" class="tk">PT2</text>
<text x="184.25" y="317.4" font-size="8.4" text-anchor="start" textLength="16" lengthAdjust="spacingAndGlyphs" transform="rotate(-90 184.25 317.4)" class="tk">PT3</text>
<text x="199.35" y="317.4" font-size="8.4" text-anchor="start" textLength="16" lengthAdjust="spacingAndGlyphs" transform="rotate(-90 199.35 317.4)" class="tk">HD1</text>
<text x="210.65" y="317.4" font-size="8.4" text-anchor="start" textLength="16" lengthAdjust="spacingAndGlyphs" transform="rotate(-90 210.65 317.4)" class="tk">HD2</text>
<text x="221.95" y="317.4" font-size="8.4" text-anchor="start" textLength="16" lengthAdjust="spacingAndGlyphs" transform="rotate(-90 221.95 317.4)" class="tk">PT2</text>
<text x="233.35" y="317.4" font-size="8.4" text-anchor="start" textLength="16" lengthAdjust="spacingAndGlyphs" transform="rotate(-90 233.35 317.4)" class="tk">PT3</text>
<line x1="44.5" y1="319.6" x2="87.5" y2="319.6" stroke="#000" stroke-width="1.4"/>
<line x1="95" y1="319.6" x2="138" y2="319.6" stroke="#000" stroke-width="1.4"/>
<line x1="145.5" y1="319.6" x2="188.75" y2="319.6" stroke="#000" stroke-width="1.4"/>
<line x1="196.25" y1="319.6" x2="239.25" y2="319.6" stroke="#000" stroke-width="1.4"/>
<text x="65.35" y="329.4" font-size="9.8" text-anchor="middle" textLength="7.16" lengthAdjust="spacingAndGlyphs" class="cb">10</text>
<text x="117.35" y="329.4" font-size="9.8" text-anchor="middle" textLength="7.58" lengthAdjust="spacingAndGlyphs" class="cb">50</text>
<text x="166.95" y="329.4" font-size="9.8" text-anchor="middle" textLength="7.16" lengthAdjust="spacingAndGlyphs" class="cb">10</text>
<text x="218.35" y="329.4" font-size="9.8" text-anchor="middle" textLength="7.58" lengthAdjust="spacingAndGlyphs" class="cb">50</text>
<line x1="44.5" y1="332.5" x2="138" y2="332.5" stroke="#000" stroke-width="1.5"/>
<line x1="145.5" y1="332.5" x2="239.25" y2="332.5" stroke="#000" stroke-width="1.5"/>
<text x="90.75" y="341.9" font-size="9.8" text-anchor="middle" textLength="16.1" lengthAdjust="spacingAndGlyphs" class="cb">ADA2</text>
<text x="192.95" y="341.9" font-size="9.8" text-anchor="middle" textLength="12.3" lengthAdjust="spacingAndGlyphs" class="cb">GFP</text>
<text x="241.8" y="329.4" font-size="9.8" text-anchor="start" textLength="12.5" lengthAdjust="spacingAndGlyphs" class="cb">MOI</text>
<text x="17.6" y="248.2" font-size="8.8" text-anchor="middle" textLength="44.5" lengthAdjust="spacingAndGlyphs" transform="rotate(-90 17.6 248.2)" class="yt">% Transduction</text>
<text x="139" y="192.2" font-size="9.3" text-anchor="middle" textLength="36.3" lengthAdjust="spacingAndGlyphs">CFU-GM</text>
<text x="7.1" y="193" font-size="11" text-anchor="start" font-weight="bold" textLength="7.2" lengthAdjust="spacingAndGlyphs" style="stroke-width:0.7px">B</text>
<!-- Panel B: BFU-E transduction -->
<rect x="300.2" y="212.25" width="9.65" height="83.35" fill="#c10017"/>
<rect x="311.6" y="240.5" width="9.65" height="55.1" fill="#c10017"/>
<rect x="322.65" y="243" width="9.65" height="52.6" fill="#0733a4"/>
<rect x="333.9" y="255" width="9.65" height="40.6" fill="#3dff10"/>
<rect x="350.3" y="208.75" width="9.65" height="86.85" fill="#c10017"/>
<rect x="361.6" y="235" width="9.65" height="60.6" fill="#c10017"/>
<rect x="372.7" y="227.5" width="9.65" height="68.1" fill="#0733a4"/>
<rect x="383.9" y="208.75" width="9.75" height="86.85" fill="#3dff10"/>
<rect x="400.7" y="205.25" width="9.6" height="90.35" fill="#c10017"/>
<rect x="411.9" y="223.75" width="9.6" height="71.85" fill="#c10017"/>
<rect x="423.5" y="272" width="9.6" height="23.6" fill="#0733a4"/>
<rect x="434.8" y="263.5" width="9.6" height="32.1" fill="#3dff10"/>
<rect x="449.6" y="204.25" width="9.9" height="91.35" fill="#c10017"/>
<rect x="461.6" y="217.5" width="10" height="78.1" fill="#c10017"/>
<rect x="473.7" y="223" width="9.8" height="72.6" fill="#0733a4"/>
<rect x="486" y="212.75" width="9.9" height="82.85" fill="#3dff10"/>
<line x1="295.1" y1="196.5" x2="295.1" y2="296.15" stroke="#000" stroke-width="1.3"/>
<line x1="290.5" y1="204.3" x2="295.1" y2="204.3" stroke="#000" stroke-width="1.3"/>
<text x="289.8" y="207.4" font-size="8.3" text-anchor="end" textLength="13.35" lengthAdjust="spacingAndGlyphs" class="nm">100</text>
<line x1="290.5" y1="226.5" x2="295.1" y2="226.5" stroke="#000" stroke-width="1.3"/>
<text x="289.8" y="229.6" font-size="8.3" text-anchor="end" textLength="8.9" lengthAdjust="spacingAndGlyphs" class="nm">75</text>
<line x1="290.5" y1="250.3" x2="295.1" y2="250.3" stroke="#000" stroke-width="1.3"/>
<text x="289.8" y="253.4" font-size="8.3" text-anchor="end" textLength="8.9" lengthAdjust="spacingAndGlyphs" class="nm">50</text>
<line x1="290.5" y1="272" x2="295.1" y2="272" stroke="#000" stroke-width="1.3"/>
<text x="289.8" y="275.1" font-size="8.3" text-anchor="end" textLength="8.9" lengthAdjust="spacingAndGlyphs" class="nm">25</text>
<line x1="290.5" y1="295.6" x2="295.1" y2="295.6" stroke="#000" stroke-width="1.3"/>
<text x="289.8" y="298.7" font-size="8.3" text-anchor="end" textLength="4.45" lengthAdjust="spacingAndGlyphs" class="nm">0</text>
<line x1="294.45" y1="295.6" x2="501.8" y2="295.6" stroke="#000" stroke-width="1.3"/>
<line x1="305.25" y1="295.6" x2="305.25" y2="300.2" stroke="#000" stroke-width="1.3"/>
<line x1="316.5" y1="295.6" x2="316.5" y2="300.2" stroke="#000" stroke-width="1.3"/>
<line x1="327.5" y1="295.6" x2="327.5" y2="300.2" stroke="#000" stroke-width="1.3"/>
<line x1="338.75" y1="295.6" x2="338.75" y2="300.2" stroke="#000" stroke-width="1.3"/>
<line x1="355.25" y1="295.6" x2="355.25" y2="300.2" stroke="#000" stroke-width="1.3"/>
<line x1="366.5" y1="295.6" x2="366.5" y2="300.2" stroke="#000" stroke-width="1.3"/>
<line x1="377.5" y1="295.6" x2="377.5" y2="300.2" stroke="#000" stroke-width="1.3"/>
<line x1="388.75" y1="295.6" x2="388.75" y2="300.2" stroke="#000" stroke-width="1.3"/>
<line x1="404.2" y1="295.6" x2="404.2" y2="300.2" stroke="#000" stroke-width="1.3"/>
<line x1="416.2" y1="295.6" x2="416.2" y2="300.2" stroke="#000" stroke-width="1.3"/>
<line x1="427.9" y1="295.6" x2="427.9" y2="300.2" stroke="#000" stroke-width="1.3"/>
<line x1="439.5" y1="295.6" x2="439.5" y2="300.2" stroke="#000" stroke-width="1.3"/>
<line x1="454.8" y1="295.6" x2="454.8" y2="300.2" stroke="#000" stroke-width="1.3"/>
<line x1="466.7" y1="295.6" x2="466.7" y2="300.2" stroke="#000" stroke-width="1.3"/>
<line x1="478.4" y1="295.6" x2="478.4" y2="300.2" stroke="#000" stroke-width="1.3"/>
<line x1="490" y1="295.6" x2="490" y2="300.2" stroke="#000" stroke-width="1.3"/>
<text x="308.1" y="317.4" font-size="8.4" text-anchor="start" textLength="16" lengthAdjust="spacingAndGlyphs" transform="rotate(-90 308.1 317.4)" class="tk">HD1</text>
<text x="319.35" y="317.4" font-size="8.4" text-anchor="start" textLength="16" lengthAdjust="spacingAndGlyphs" transform="rotate(-90 319.35 317.4)" class="tk">HD2</text>
<text x="330.35" y="317.4" font-size="8.4" text-anchor="start" textLength="16" lengthAdjust="spacingAndGlyphs" transform="rotate(-90 330.35 317.4)" class="tk">PT2</text>
<text x="341.6" y="317.4" font-size="8.4" text-anchor="start" textLength="16" lengthAdjust="spacingAndGlyphs" transform="rotate(-90 341.6 317.4)" class="tk">PT3</text>
<text x="358.1" y="317.4" font-size="8.4" text-anchor="start" textLength="16" lengthAdjust="spacingAndGlyphs" transform="rotate(-90 358.1 317.4)" class="tk">HD1</text>
<text x="369.35" y="317.4" font-size="8.4" text-anchor="start" textLength="16" lengthAdjust="spacingAndGlyphs" transform="rotate(-90 369.35 317.4)" class="tk">HD2</text>
<text x="380.35" y="317.4" font-size="8.4" text-anchor="start" textLength="16" lengthAdjust="spacingAndGlyphs" transform="rotate(-90 380.35 317.4)" class="tk">PT2</text>
<text x="391.6" y="317.4" font-size="8.4" text-anchor="start" textLength="16" lengthAdjust="spacingAndGlyphs" transform="rotate(-90 391.6 317.4)" class="tk">PT3</text>
<text x="407.05" y="317.4" font-size="8.4" text-anchor="start" textLength="16" lengthAdjust="spacingAndGlyphs" transform="rotate(-90 407.05 317.4)" class="tk">HD1</text>
<text x="419.05" y="317.4" font-size="8.4" text-anchor="start" textLength="16" lengthAdjust="spacingAndGlyphs" transform="rotate(-90 419.05 317.4)" class="tk">HD2</text>
<text x="430.75" y="317.4" font-size="8.4" text-anchor="start" textLength="16" lengthAdjust="spacingAndGlyphs" transform="rotate(-90 430.75 317.4)" class="tk">PT2</text>
<text x="442.35" y="317.4" font-size="8.4" text-anchor="start" textLength="16" lengthAdjust="spacingAndGlyphs" transform="rotate(-90 442.35 317.4)" class="tk">PT3</text>
<text x="457.65" y="317.4" font-size="8.4" text-anchor="start" textLength="16" lengthAdjust="spacingAndGlyphs" transform="rotate(-90 457.65 317.4)" class="tk">HD1</text>
<text x="469.55" y="317.4" font-size="8.4" text-anchor="start" textLength="16" lengthAdjust="spacingAndGlyphs" transform="rotate(-90 469.55 317.4)" class="tk">HD2</text>
<text x="481.25" y="317.4" font-size="8.4" text-anchor="start" textLength="16" lengthAdjust="spacingAndGlyphs" transform="rotate(-90 481.25 317.4)" class="tk">PT2</text>
<text x="492.85" y="317.4" font-size="8.4" text-anchor="start" textLength="16" lengthAdjust="spacingAndGlyphs" transform="rotate(-90 492.85 317.4)" class="tk">PT3</text>
<line x1="302" y1="319.6" x2="345" y2="319.6" stroke="#000" stroke-width="1.4"/>
<line x1="352.5" y1="319.6" x2="395.5" y2="319.6" stroke="#000" stroke-width="1.4"/>
<line x1="403" y1="319.6" x2="446.25" y2="319.6" stroke="#000" stroke-width="1.4"/>
<line x1="453.75" y1="319.6" x2="497" y2="319.6" stroke="#000" stroke-width="1.4"/>
<text x="322.65" y="329.1" font-size="9.8" text-anchor="middle" textLength="7.16" lengthAdjust="spacingAndGlyphs" class="cb">10</text>
<text x="374.45" y="329.1" font-size="9.8" text-anchor="middle" textLength="7.58" lengthAdjust="spacingAndGlyphs" class="cb">50</text>
<text x="425.15" y="329.1" font-size="9.8" text-anchor="middle" textLength="7.16" lengthAdjust="spacingAndGlyphs" class="cb">10</text>
<text x="475.95" y="329.1" font-size="9.8" text-anchor="middle" textLength="7.58" lengthAdjust="spacingAndGlyphs" class="cb">50</text>
<line x1="302" y1="332.5" x2="395.5" y2="332.5" stroke="#000" stroke-width="1.5"/>
<line x1="403" y1="332.5" x2="497" y2="332.5" stroke="#000" stroke-width="1.5"/>
<text x="348.45" y="341.9" font-size="9.8" text-anchor="middle" textLength="16.1" lengthAdjust="spacingAndGlyphs" class="cb">ADA2</text>
<text x="450.95" y="341.9" font-size="9.8" text-anchor="middle" textLength="12.3" lengthAdjust="spacingAndGlyphs" class="cb">GFP</text>
<text x="500" y="329.1" font-size="9.8" text-anchor="start" textLength="11.9" lengthAdjust="spacingAndGlyphs" class="cb">MOI</text>
<text x="275.8" y="245.6" font-size="8.8" text-anchor="middle" textLength="44.5" lengthAdjust="spacingAndGlyphs" transform="rotate(-90 275.8 245.6)" class="yt">% Transduction</text>
<text x="396.6" y="192.2" font-size="9.3" text-anchor="middle" textLength="25.8" lengthAdjust="spacingAndGlyphs">BFU-E</text>
<!-- Panel C: CFU-GM VCN -->
<line x1="45.32" y1="455.25" x2="45.32" y2="470.4" stroke="#000" stroke-width="1.3"/>
<line x1="42.07" y1="455.7" x2="48.27" y2="455.7" stroke="#000" stroke-width="1.3"/>
<line x1="42.07" y1="470.4" x2="48.27" y2="470.4" stroke="#000" stroke-width="1.3"/>
<rect x="40.8" y="463" width="8.75" height="5.95" fill="#c10017"/>
<line x1="40.8" y1="466" x2="49.55" y2="466" stroke="#000" stroke-width="1.4"/>
<line x1="56.82" y1="448.5" x2="56.82" y2="469.9" stroke="#000" stroke-width="1.3"/>
<line x1="53.57" y1="448.95" x2="59.77" y2="448.95" stroke="#000" stroke-width="1.3"/>
<line x1="53.57" y1="469.9" x2="59.77" y2="469.9" stroke="#000" stroke-width="1.3"/>
<rect x="52.3" y="460.5" width="8.75" height="7.7" fill="#c10017"/>
<line x1="52.3" y1="464.75" x2="61.05" y2="464.75" stroke="#000" stroke-width="1.4"/>
<line x1="67.45" y1="461.5" x2="67.45" y2="471.4" stroke="#000" stroke-width="1.3"/>
<line x1="64.2" y1="461.95" x2="70.4" y2="461.95" stroke="#000" stroke-width="1.3"/>
<line x1="64.2" y1="471.4" x2="70.4" y2="471.4" stroke="#000" stroke-width="1.3"/>
<rect x="63.05" y="465.25" width="8.5" height="5.95" fill="#0733a4"/>
<line x1="63.05" y1="469.25" x2="71.55" y2="469.25" stroke="#000" stroke-width="1.4"/>
<line x1="79.08" y1="462" x2="79.08" y2="470.4" stroke="#000" stroke-width="1.3"/>
<line x1="75.83" y1="462.45" x2="82.02" y2="462.45" stroke="#000" stroke-width="1.3"/>
<line x1="75.83" y1="470.4" x2="82.02" y2="470.4" stroke="#000" stroke-width="1.3"/>
<rect x="74.55" y="463.75" width="8.75" height="6.2" fill="#3dff10"/>
<line x1="74.55" y1="467.5" x2="83.3" y2="467.5" stroke="#000" stroke-width="1.4"/>
<line x1="95.45" y1="383" x2="95.45" y2="470.4" stroke="#000" stroke-width="1.3"/>
<line x1="92.2" y1="383.45" x2="98.4" y2="383.45" stroke="#000" stroke-width="1.3"/>
<line x1="92.2" y1="470.4" x2="98.4" y2="470.4" stroke="#000" stroke-width="1.3"/>
<rect x="90.8" y="452.5" width="9" height="13.45" fill="#c10017"/>
<line x1="90.8" y1="460.5" x2="99.8" y2="460.5" stroke="#000" stroke-width="1.4"/>
<line x1="106.95" y1="400.25" x2="106.95" y2="469.9" stroke="#000" stroke-width="1.3"/>
<line x1="103.7" y1="400.7" x2="109.9" y2="400.7" stroke="#000" stroke-width="1.3"/>
<line x1="103.7" y1="469.9" x2="109.9" y2="469.9" stroke="#000" stroke-width="1.3"/>
<rect x="102.3" y="454.25" width="9" height="8.7" fill="#c10017"/>
<line x1="102.3" y1="458.75" x2="111.3" y2="458.75" stroke="#000" stroke-width="1.4"/>
<line x1="117.83" y1="448.25" x2="117.83" y2="470.4" stroke="#000" stroke-width="1.3"/>
<line x1="114.58" y1="448.7" x2="120.77" y2="448.7" stroke="#000" stroke-width="1.3"/>
<line x1="114.58" y1="470.4" x2="120.77" y2="470.4" stroke="#000" stroke-width="1.3"/>
<rect x="113.3" y="462" width="8.75" height="6.2" fill="#0733a4"/>
<line x1="113.3" y1="465.75" x2="122.05" y2="465.75" stroke="#000" stroke-width="1.4"/>
<line x1="129.7" y1="449.25" x2="129.7" y2="468.65" stroke="#000" stroke-width="1.3"/>
<line x1="126.45" y1="449.7" x2="132.65" y2="449.7" stroke="#000" stroke-width="1.3"/>
<line x1="126.45" y1="468.65" x2="132.65" y2="468.65" stroke="#000" stroke-width="1.3"/>
<rect x="125.05" y="456" width="9" height="11.45" fill="#3dff10"/>
<line x1="125.05" y1="465" x2="134.05" y2="465" stroke="#000" stroke-width="1.4"/>
<line x1="146.08" y1="452.25" x2="146.08" y2="470.4" stroke="#000" stroke-width="1.3"/>
<line x1="142.83" y1="452.7" x2="149.03" y2="452.7" stroke="#000" stroke-width="1.3"/>
<line x1="142.83" y1="470.4" x2="149.03" y2="470.4" stroke="#000" stroke-width="1.3"/>
<rect x="141.55" y="461.75" width="8.75" height="6.2" fill="#c10017"/>
<line x1="141.55" y1="464.5" x2="150.3" y2="464.5" stroke="#000" stroke-width="1.4"/>
<line x1="157.58" y1="447.5" x2="157.58" y2="469.9" stroke="#000" stroke-width="1.3"/>
<line x1="154.33" y1="447.95" x2="160.53" y2="447.95" stroke="#000" stroke-width="1.3"/>
<line x1="154.33" y1="469.9" x2="160.53" y2="469.9" stroke="#000" stroke-width="1.3"/>
<rect x="153.05" y="456.5" width="8.75" height="12.7" fill="#c10017"/>
<line x1="153.05" y1="463" x2="161.8" y2="463" stroke="#000" stroke-width="1.4"/>
<line x1="168.7" y1="456.25" x2="168.7" y2="470.4" stroke="#000" stroke-width="1.3"/>
<line x1="165.45" y1="456.7" x2="171.65" y2="456.7" stroke="#000" stroke-width="1.3"/>
<line x1="165.45" y1="470.4" x2="171.65" y2="470.4" stroke="#000" stroke-width="1.3"/>
<rect x="164.3" y="461.5" width="8.5" height="7.45" fill="#0733a4"/>
<line x1="164.3" y1="467" x2="172.8" y2="467" stroke="#000" stroke-width="1.4"/>
<line x1="179.95" y1="462.5" x2="179.95" y2="470.4" stroke="#000" stroke-width="1.3"/>
<line x1="176.7" y1="462.95" x2="182.9" y2="462.95" stroke="#000" stroke-width="1.3"/>
<line x1="176.7" y1="470.4" x2="182.9" y2="470.4" stroke="#000" stroke-width="1.3"/>
<rect x="175.55" y="464.5" width="8.5" height="5.2" fill="#3dff10"/>
<line x1="175.55" y1="467" x2="184.05" y2="467" stroke="#000" stroke-width="1.4"/>
<line x1="196.45" y1="387" x2="196.45" y2="470.4" stroke="#000" stroke-width="1.3"/>
<line x1="193.2" y1="387.45" x2="199.4" y2="387.45" stroke="#000" stroke-width="1.3"/>
<line x1="193.2" y1="470.4" x2="199.4" y2="470.4" stroke="#000" stroke-width="1.3"/>
<rect x="191.8" y="435.75" width="9" height="24.95" fill="#c10017"/>
<line x1="191.8" y1="452.5" x2="200.8" y2="452.5" stroke="#000" stroke-width="1.4"/>
<line x1="207.83" y1="452" x2="207.83" y2="469.9" stroke="#000" stroke-width="1.3"/>
<line x1="204.58" y1="452.45" x2="210.78" y2="452.45" stroke="#000" stroke-width="1.3"/>
<line x1="204.58" y1="469.9" x2="210.78" y2="469.9" stroke="#000" stroke-width="1.3"/>
<rect x="203.3" y="453" width="8.75" height="11.95" fill="#c10017"/>
<line x1="203.3" y1="463" x2="212.05" y2="463" stroke="#000" stroke-width="1.4"/>
<line x1="218.95" y1="459.25" x2="218.95" y2="469.9" stroke="#000" stroke-width="1.3"/>
<line x1="215.7" y1="459.7" x2="221.9" y2="459.7" stroke="#000" stroke-width="1.3"/>
<line x1="215.7" y1="469.9" x2="221.9" y2="469.9" stroke="#000" stroke-width="1.3"/>
<rect x="214.55" y="464.5" width="8.5" height="4.45" fill="#0733a4"/>
<line x1="214.55" y1="467" x2="223.05" y2="467" stroke="#000" stroke-width="1.4"/>
<line x1="230.2" y1="451.25" x2="230.2" y2="467.9" stroke="#000" stroke-width="1.3"/>
<line x1="226.95" y1="451.7" x2="233.15" y2="451.7" stroke="#000" stroke-width="1.3"/>
<line x1="226.95" y1="467.9" x2="233.15" y2="467.9" stroke="#000" stroke-width="1.3"/>
<rect x="225.8" y="460.75" width="8.5" height="5.95" fill="#3dff10"/>
<line x1="225.8" y1="464" x2="234.3" y2="464" stroke="#000" stroke-width="1.4"/>
<line x1="36.3" y1="374" x2="36.3" y2="474.15" stroke="#000" stroke-width="1.3"/>
<line x1="31.7" y1="374.6" x2="36.3" y2="374.6" stroke="#000" stroke-width="1.3"/>
<text x="30.9" y="377.7" font-size="8.3" text-anchor="end" textLength="8.9" lengthAdjust="spacingAndGlyphs" class="nm">20</text>
<line x1="31.7" y1="400.3" x2="36.3" y2="400.3" stroke="#000" stroke-width="1.3"/>
<text x="30.9" y="403.4" font-size="8.3" text-anchor="end" textLength="8.9" lengthAdjust="spacingAndGlyphs" class="nm">15</text>
<line x1="31.7" y1="424.4" x2="36.3" y2="424.4" stroke="#000" stroke-width="1.3"/>
<text x="30.9" y="427.5" font-size="8.3" text-anchor="end" textLength="8.9" lengthAdjust="spacingAndGlyphs" class="nm">10</text>
<line x1="31.7" y1="449.3" x2="36.3" y2="449.3" stroke="#000" stroke-width="1.3"/>
<text x="30.9" y="452.4" font-size="8.3" text-anchor="end" textLength="4.45" lengthAdjust="spacingAndGlyphs" class="nm">5</text>
<line x1="31.7" y1="473.6" x2="36.3" y2="473.6" stroke="#000" stroke-width="1.3"/>
<text x="30.9" y="476.7" font-size="8.3" text-anchor="end" textLength="4.45" lengthAdjust="spacingAndGlyphs" class="nm">0</text>
<line x1="35.65" y1="473.6" x2="243.8" y2="473.6" stroke="#000" stroke-width="1.3"/>
<line x1="45" y1="473.6" x2="45" y2="478.2" stroke="#000" stroke-width="1.3"/>
<line x1="56.25" y1="473.6" x2="56.25" y2="478.2" stroke="#000" stroke-width="1.3"/>
<line x1="66.75" y1="473.6" x2="66.75" y2="478.2" stroke="#000" stroke-width="1.3"/>
<line x1="78.5" y1="473.6" x2="78.5" y2="478.2" stroke="#000" stroke-width="1.3"/>
<line x1="95.25" y1="473.6" x2="95.25" y2="478.2" stroke="#000" stroke-width="1.3"/>
<line x1="106.5" y1="473.6" x2="106.5" y2="478.2" stroke="#000" stroke-width="1.3"/>
<line x1="117.5" y1="473.6" x2="117.5" y2="478.2" stroke="#000" stroke-width="1.3"/>
<line x1="128.75" y1="473.6" x2="128.75" y2="478.2" stroke="#000" stroke-width="1.3"/>
<line x1="145.5" y1="473.6" x2="145.5" y2="478.2" stroke="#000" stroke-width="1.3"/>
<line x1="157" y1="473.6" x2="157" y2="478.2" stroke="#000" stroke-width="1.3"/>
<line x1="168" y1="473.6" x2="168" y2="478.2" stroke="#000" stroke-width="1.3"/>
<line x1="179.5" y1="473.6" x2="179.5" y2="478.2" stroke="#000" stroke-width="1.3"/>
<line x1="196.25" y1="473.6" x2="196.25" y2="478.2" stroke="#000" stroke-width="1.3"/>
<line x1="207.5" y1="473.6" x2="207.5" y2="478.2" stroke="#000" stroke-width="1.3"/>
<line x1="218.25" y1="473.6" x2="218.25" y2="478.2" stroke="#000" stroke-width="1.3"/>
<line x1="229.75" y1="473.6" x2="229.75" y2="478.2" stroke="#000" stroke-width="1.3"/>
<text x="47.85" y="495.2" font-size="8.4" text-anchor="start" textLength="16" lengthAdjust="spacingAndGlyphs" transform="rotate(-90 47.85 495.2)" class="tk">HD1</text>
<text x="59.1" y="495.2" font-size="8.4" text-anchor="start" textLength="16" lengthAdjust="spacingAndGlyphs" transform="rotate(-90 59.1 495.2)" class="tk">HD2</text>
<text x="69.6" y="495.2" font-size="8.4" text-anchor="start" textLength="16" lengthAdjust="spacingAndGlyphs" transform="rotate(-90 69.6 495.2)" class="tk">PT2</text>
<text x="81.35" y="495.2" font-size="8.4" text-anchor="start" textLength="16" lengthAdjust="spacingAndGlyphs" transform="rotate(-90 81.35 495.2)" class="tk">PT3</text>
<text x="98.1" y="495.2" font-size="8.4" text-anchor="start" textLength="16" lengthAdjust="spacingAndGlyphs" transform="rotate(-90 98.1 495.2)" class="tk">HD1</text>
<text x="109.35" y="495.2" font-size="8.4" text-anchor="start" textLength="16" lengthAdjust="spacingAndGlyphs" transform="rotate(-90 109.35 495.2)" class="tk">HD2</text>
<text x="120.35" y="495.2" font-size="8.4" text-anchor="start" textLength="16" lengthAdjust="spacingAndGlyphs" transform="rotate(-90 120.35 495.2)" class="tk">PT2</text>
<text x="131.6" y="495.2" font-size="8.4" text-anchor="start" textLength="16" lengthAdjust="spacingAndGlyphs" transform="rotate(-90 131.6 495.2)" class="tk">PT3</text>
<text x="148.35" y="495.2" font-size="8.4" text-anchor="start" textLength="16" lengthAdjust="spacingAndGlyphs" transform="rotate(-90 148.35 495.2)" class="tk">HD1</text>
<text x="159.85" y="495.2" font-size="8.4" text-anchor="start" textLength="16" lengthAdjust="spacingAndGlyphs" transform="rotate(-90 159.85 495.2)" class="tk">HD2</text>
<text x="170.85" y="495.2" font-size="8.4" text-anchor="start" textLength="16" lengthAdjust="spacingAndGlyphs" transform="rotate(-90 170.85 495.2)" class="tk">PT2</text>
<text x="182.35" y="495.2" font-size="8.4" text-anchor="start" textLength="16" lengthAdjust="spacingAndGlyphs" transform="rotate(-90 182.35 495.2)" class="tk">PT3</text>
<text x="199.1" y="495.2" font-size="8.4" text-anchor="start" textLength="16" lengthAdjust="spacingAndGlyphs" transform="rotate(-90 199.1 495.2)" class="tk">HD1</text>
<text x="210.35" y="495.2" font-size="8.4" text-anchor="start" textLength="16" lengthAdjust="spacingAndGlyphs" transform="rotate(-90 210.35 495.2)" class="tk">HD2</text>
<text x="221.1" y="495.2" font-size="8.4" text-anchor="start" textLength="16" lengthAdjust="spacingAndGlyphs" transform="rotate(-90 221.1 495.2)" class="tk">PT2</text>
<text x="232.6" y="495.2" font-size="8.4" text-anchor="start" textLength="16" lengthAdjust="spacingAndGlyphs" transform="rotate(-90 232.6 495.2)" class="tk">PT3</text>
<line x1="42" y1="497.6" x2="85" y2="497.6" stroke="#000" stroke-width="1.4"/>
<line x1="91.75" y1="497.6" x2="135" y2="497.6" stroke="#000" stroke-width="1.4"/>
<line x1="143" y1="497.6" x2="186.25" y2="497.6" stroke="#000" stroke-width="1.4"/>
<line x1="193.75" y1="497.6" x2="236.75" y2="497.6" stroke="#000" stroke-width="1.4"/>
<text x="60.15" y="507.4" font-size="9.8" text-anchor="middle" textLength="7.16" lengthAdjust="spacingAndGlyphs" class="cb">10</text>
<text x="110.95" y="507.4" font-size="9.8" text-anchor="middle" textLength="7.58" lengthAdjust="spacingAndGlyphs" class="cb">50</text>
<text x="162.15" y="507.4" font-size="9.8" text-anchor="middle" textLength="7.16" lengthAdjust="spacingAndGlyphs" class="cb">10</text>
<text x="212.65" y="507.4" font-size="9.8" text-anchor="middle" textLength="7.58" lengthAdjust="spacingAndGlyphs" class="cb">50</text>
<line x1="42" y1="510.5" x2="135" y2="510.5" stroke="#000" stroke-width="1.5"/>
<line x1="143" y1="510.5" x2="236.75" y2="510.5" stroke="#000" stroke-width="1.5"/>
<text x="88.45" y="519.6" font-size="9.8" text-anchor="middle" textLength="16.1" lengthAdjust="spacingAndGlyphs" class="cb">ADA2</text>
<text x="190.95" y="519.6" font-size="9.8" text-anchor="middle" textLength="12.3" lengthAdjust="spacingAndGlyphs" class="cb">GFP</text>
<text x="241.3" y="507.4" font-size="9.8" text-anchor="start" textLength="11.9" lengthAdjust="spacingAndGlyphs" class="cb">MOI</text>
<text x="16.2" y="423.8" font-size="8.8" text-anchor="middle" textLength="41.5" lengthAdjust="spacingAndGlyphs" transform="rotate(-90 16.2 423.8)" class="yt">VCN / genome</text>
<text x="137.8" y="362.9" font-size="9.4" text-anchor="middle" textLength="36.8" lengthAdjust="spacingAndGlyphs">CFU-GM</text>
<text x="5.9" y="364.3" font-size="11.6" text-anchor="start" font-weight="bold" textLength="7" lengthAdjust="spacingAndGlyphs" style="stroke-width:0.7px">C</text>
<line x1="55.5" y1="370.6" x2="79" y2="370.6" stroke="#000" stroke-width="1.4"/>
<text x="66.75" y="368.4" font-size="6.2" text-anchor="middle" font-weight="bold">*</text>
<line x1="55.5" y1="378.1" x2="66.5" y2="378.1" stroke="#000" stroke-width="1.4"/>
<text x="60.75" y="376.65" font-size="6.2" text-anchor="middle" font-weight="bold">*</text>
<line x1="94.5" y1="370.6" x2="117.5" y2="370.6" stroke="#000" stroke-width="1.4"/>
<text x="106" y="367.9" font-size="6.2" text-anchor="middle" font-weight="bold">*</text>
<line x1="107.5" y1="378.1" x2="131.25" y2="378.1" stroke="#000" stroke-width="1.4"/>
<text x="118.5" y="376.15" font-size="6.2" text-anchor="middle" font-weight="bold">*</text>
<line x1="107.5" y1="385.35" x2="117.5" y2="385.35" stroke="#000" stroke-width="1.4"/>
<text x="113.2" y="383.4" font-size="6.2" text-anchor="middle" font-weight="bold" letter-spacing="1.3">**</text>
<line x1="196.75" y1="370.35" x2="230.75" y2="370.35" stroke="#000" stroke-width="1.4"/>
<text x="213.5" y="367.9" font-size="6.2" text-anchor="middle" font-weight="bold">*</text>
<line x1="196.75" y1="377.6" x2="220" y2="377.6" stroke="#000" stroke-width="1.4"/>
<text x="209.45" y="376.4" font-size="6.2" text-anchor="middle" font-weight="bold" letter-spacing="1.3">***</text>
<line x1="196.75" y1="385.35" x2="206.75" y2="385.35" stroke="#000" stroke-width="1.4"/>
<text x="201.75" y="384.15" font-size="6.2" text-anchor="middle" font-weight="bold">*</text>
<line x1="210.5" y1="385.35" x2="220.5" y2="385.35" stroke="#000" stroke-width="1.4"/>
<text x="216.5" y="384.15" font-size="6.2" text-anchor="middle" font-weight="bold">*</text>
<!-- Panel C: BFU-E VCN -->
<line x1="304.15" y1="430" x2="304.15" y2="470.4" stroke="#000" stroke-width="1.3"/>
<line x1="300.9" y1="430.45" x2="307.1" y2="430.45" stroke="#000" stroke-width="1.3"/>
<line x1="300.9" y1="470.4" x2="307.1" y2="470.4" stroke="#000" stroke-width="1.3"/>
<rect x="299.5" y="446" width="9" height="17.95" fill="#c10017"/>
<line x1="299.5" y1="457.5" x2="308.5" y2="457.5" stroke="#000" stroke-width="1.4"/>
<line x1="315.52" y1="461.25" x2="315.52" y2="469.9" stroke="#000" stroke-width="1.3"/>
<line x1="312.27" y1="461.7" x2="318.48" y2="461.7" stroke="#000" stroke-width="1.3"/>
<line x1="312.27" y1="469.9" x2="318.48" y2="469.9" stroke="#000" stroke-width="1.3"/>
<rect x="311" y="462.75" width="8.75" height="5.45" fill="#c10017"/>
<line x1="311" y1="464.75" x2="319.75" y2="464.75" stroke="#000" stroke-width="1.4"/>
<line x1="326.65" y1="437.5" x2="326.65" y2="470.4" stroke="#000" stroke-width="1.3"/>
<line x1="323.4" y1="437.95" x2="329.6" y2="437.95" stroke="#000" stroke-width="1.3"/>
<line x1="323.4" y1="470.4" x2="329.6" y2="470.4" stroke="#000" stroke-width="1.3"/>
<rect x="322.25" y="463" width="8.5" height="6.2" fill="#0733a4"/>
<line x1="322.25" y1="467" x2="330.75" y2="467" stroke="#000" stroke-width="1.4"/>
<line x1="337.9" y1="455.25" x2="337.9" y2="470.4" stroke="#000" stroke-width="1.3"/>
<line x1="334.65" y1="455.7" x2="340.85" y2="455.7" stroke="#000" stroke-width="1.3"/>
<line x1="334.65" y1="470.4" x2="340.85" y2="470.4" stroke="#000" stroke-width="1.3"/>
<rect x="333.25" y="463.25" width="9" height="6.95" fill="#3dff10"/>
<line x1="333.25" y1="466.75" x2="342.25" y2="466.75" stroke="#000" stroke-width="1.4"/>
<line x1="354.4" y1="379.5" x2="354.4" y2="467.9" stroke="#000" stroke-width="1.3"/>
<line x1="351.15" y1="379.95" x2="357.35" y2="379.95" stroke="#000" stroke-width="1.3"/>
<line x1="351.15" y1="467.9" x2="357.35" y2="467.9" stroke="#000" stroke-width="1.3"/>
<rect x="349.75" y="443.25" width="9" height="16.7" fill="#c10017"/>
<line x1="349.75" y1="453.25" x2="358.75" y2="453.25" stroke="#000" stroke-width="1.4"/>
<line x1="365.77" y1="430.75" x2="365.77" y2="469.9" stroke="#000" stroke-width="1.3"/>
<line x1="362.52" y1="431.2" x2="368.73" y2="431.2" stroke="#000" stroke-width="1.3"/>
<line x1="362.52" y1="469.9" x2="368.73" y2="469.9" stroke="#000" stroke-width="1.3"/>
<rect x="361.25" y="457.5" width="8.75" height="8.45" fill="#c10017"/>
<line x1="361.25" y1="461.75" x2="370" y2="461.75" stroke="#000" stroke-width="1.4"/>
<line x1="376.77" y1="413.5" x2="376.77" y2="470.4" stroke="#000" stroke-width="1.3"/>
<line x1="373.52" y1="413.95" x2="379.73" y2="413.95" stroke="#000" stroke-width="1.3"/>
<line x1="373.52" y1="470.4" x2="379.73" y2="470.4" stroke="#000" stroke-width="1.3"/>
<rect x="372.25" y="446" width="8.75" height="16.45" fill="#0733a4"/>
<line x1="372.25" y1="454.25" x2="381" y2="454.25" stroke="#000" stroke-width="1.4"/>
<line x1="388.15" y1="432.75" x2="388.15" y2="469.65" stroke="#000" stroke-width="1.3"/>
<line x1="384.9" y1="433.2" x2="391.1" y2="433.2" stroke="#000" stroke-width="1.3"/>
<line x1="384.9" y1="469.65" x2="391.1" y2="469.65" stroke="#000" stroke-width="1.3"/>
<rect x="383.25" y="457.75" width="9.5" height="9.7" fill="#3dff10"/>
<line x1="383.25" y1="460.75" x2="392.75" y2="460.75" stroke="#000" stroke-width="1.4"/>
<line x1="404.9" y1="411" x2="404.9" y2="469.15" stroke="#000" stroke-width="1.3"/>
<line x1="401.65" y1="411.45" x2="407.85" y2="411.45" stroke="#000" stroke-width="1.3"/>
<line x1="401.65" y1="469.15" x2="407.85" y2="469.15" stroke="#000" stroke-width="1.3"/>
<rect x="400.25" y="455" width="9" height="12.95" fill="#c10017"/>
<line x1="400.25" y1="462.5" x2="409.25" y2="462.5" stroke="#000" stroke-width="1.4"/>
<line x1="416.15" y1="447.5" x2="416.15" y2="470.9" stroke="#000" stroke-width="1.3"/>
<line x1="412.9" y1="447.95" x2="419.1" y2="447.95" stroke="#000" stroke-width="1.3"/>
<line x1="412.9" y1="470.9" x2="419.1" y2="470.9" stroke="#000" stroke-width="1.3"/>
<rect x="411.5" y="463.75" width="9" height="4.45" fill="#c10017"/>
<line x1="411.5" y1="466" x2="420.5" y2="466" stroke="#000" stroke-width="1.4"/>
<line x1="427.4" y1="467.5" x2="427.4" y2="469.65" stroke="#000" stroke-width="1.3"/>
<line x1="424.15" y1="467.95" x2="430.35" y2="467.95" stroke="#000" stroke-width="1.3"/>
<line x1="424.15" y1="469.65" x2="430.35" y2="469.65" stroke="#000" stroke-width="1.3"/>
<rect x="423" y="467.5" width="8.5" height="2.2" fill="#0733a4"/>
<line x1="423" y1="468.75" x2="431.5" y2="468.75" stroke="#000" stroke-width="1.4"/>
<line x1="438.77" y1="463.25" x2="438.77" y2="470.4" stroke="#000" stroke-width="1.3"/>
<line x1="435.52" y1="463.7" x2="441.73" y2="463.7" stroke="#000" stroke-width="1.3"/>
<line x1="435.52" y1="470.4" x2="441.73" y2="470.4" stroke="#000" stroke-width="1.3"/>
<rect x="434.25" y="464.25" width="8.75" height="5.95" fill="#3dff10"/>
<line x1="434.25" y1="468" x2="443" y2="468" stroke="#000" stroke-width="1.4"/>
<line x1="455.15" y1="381" x2="455.15" y2="470.4" stroke="#000" stroke-width="1.3"/>
<line x1="451.9" y1="381.45" x2="458.1" y2="381.45" stroke="#000" stroke-width="1.3"/>
<line x1="451.9" y1="470.4" x2="458.1" y2="470.4" stroke="#000" stroke-width="1.3"/>
<rect x="450.5" y="441.5" width="9" height="21.45" fill="#c10017"/>
<line x1="450.5" y1="453.25" x2="459.5" y2="453.25" stroke="#000" stroke-width="1.4"/>
<line x1="466.52" y1="434.25" x2="466.52" y2="470.4" stroke="#000" stroke-width="1.3"/>
<line x1="463.27" y1="434.7" x2="469.48" y2="434.7" stroke="#000" stroke-width="1.3"/>
<line x1="463.27" y1="470.4" x2="469.48" y2="470.4" stroke="#000" stroke-width="1.3"/>
<rect x="462" y="451" width="8.75" height="16.95" fill="#c10017"/>
<line x1="462" y1="464.25" x2="470.75" y2="464.25" stroke="#000" stroke-width="1.4"/>
<line x1="477.52" y1="424" x2="477.52" y2="469.65" stroke="#000" stroke-width="1.3"/>
<line x1="474.27" y1="424.45" x2="480.48" y2="424.45" stroke="#000" stroke-width="1.3"/>
<line x1="474.27" y1="469.65" x2="480.48" y2="469.65" stroke="#000" stroke-width="1.3"/>
<rect x="473" y="451.25" width="8.75" height="16.45" fill="#0733a4"/>
<line x1="473" y1="464.5" x2="481.75" y2="464.5" stroke="#000" stroke-width="1.4"/>
<line x1="488.77" y1="437.75" x2="488.77" y2="470.4" stroke="#000" stroke-width="1.3"/>
<line x1="485.52" y1="438.2" x2="491.73" y2="438.2" stroke="#000" stroke-width="1.3"/>
<line x1="485.52" y1="470.4" x2="491.73" y2="470.4" stroke="#000" stroke-width="1.3"/>
<rect x="484.25" y="458.75" width="8.75" height="8.7" fill="#3dff10"/>
<line x1="484.25" y1="464.25" x2="493" y2="464.25" stroke="#000" stroke-width="1.4"/>
<line x1="295.1" y1="374" x2="295.1" y2="474.15" stroke="#000" stroke-width="1.3"/>
<line x1="290.5" y1="374.6" x2="295.1" y2="374.6" stroke="#000" stroke-width="1.3"/>
<text x="289.7" y="377.7" font-size="8.3" text-anchor="end" textLength="8.9" lengthAdjust="spacingAndGlyphs" class="nm">20</text>
<line x1="290.5" y1="400.3" x2="295.1" y2="400.3" stroke="#000" stroke-width="1.3"/>
<text x="289.7" y="403.4" font-size="8.3" text-anchor="end" textLength="8.9" lengthAdjust="spacingAndGlyphs" class="nm">15</text>
<line x1="290.5" y1="424.4" x2="295.1" y2="424.4" stroke="#000" stroke-width="1.3"/>
<text x="289.7" y="427.5" font-size="8.3" text-anchor="end" textLength="8.9" lengthAdjust="spacingAndGlyphs" class="nm">10</text>
<line x1="290.5" y1="449.3" x2="295.1" y2="449.3" stroke="#000" stroke-width="1.3"/>
<text x="289.7" y="452.4" font-size="8.3" text-anchor="end" textLength="4.45" lengthAdjust="spacingAndGlyphs" class="nm">5</text>
<line x1="290.5" y1="473.6" x2="295.1" y2="473.6" stroke="#000" stroke-width="1.3"/>
<text x="289.7" y="476.7" font-size="8.3" text-anchor="end" textLength="4.45" lengthAdjust="spacingAndGlyphs" class="nm">0</text>
<line x1="294.45" y1="473.6" x2="502.5" y2="473.6" stroke="#000" stroke-width="1.3"/>
<line x1="304.25" y1="473.6" x2="304.25" y2="478.2" stroke="#000" stroke-width="1.3"/>
<line x1="315.5" y1="473.6" x2="315.5" y2="478.2" stroke="#000" stroke-width="1.3"/>
<line x1="326.25" y1="473.6" x2="326.25" y2="478.2" stroke="#000" stroke-width="1.3"/>
<line x1="337.75" y1="473.6" x2="337.75" y2="478.2" stroke="#000" stroke-width="1.3"/>
<line x1="354.5" y1="473.6" x2="354.5" y2="478.2" stroke="#000" stroke-width="1.3"/>
<line x1="365.75" y1="473.6" x2="365.75" y2="478.2" stroke="#000" stroke-width="1.3"/>
<line x1="376.75" y1="473.6" x2="376.75" y2="478.2" stroke="#000" stroke-width="1.3"/>
<line x1="388.25" y1="473.6" x2="388.25" y2="478.2" stroke="#000" stroke-width="1.3"/>
<line x1="405" y1="473.6" x2="405" y2="478.2" stroke="#000" stroke-width="1.3"/>
<line x1="416.25" y1="473.6" x2="416.25" y2="478.2" stroke="#000" stroke-width="1.3"/>
<line x1="427.25" y1="473.6" x2="427.25" y2="478.2" stroke="#000" stroke-width="1.3"/>
<line x1="438.75" y1="473.6" x2="438.75" y2="478.2" stroke="#000" stroke-width="1.3"/>
<line x1="455.5" y1="473.6" x2="455.5" y2="478.2" stroke="#000" stroke-width="1.3"/>
<line x1="466.75" y1="473.6" x2="466.75" y2="478.2" stroke="#000" stroke-width="1.3"/>
<line x1="477.5" y1="473.6" x2="477.5" y2="478.2" stroke="#000" stroke-width="1.3"/>
<line x1="489" y1="473.6" x2="489" y2="478.2" stroke="#000" stroke-width="1.3"/>
<text x="307.1" y="495.2" font-size="8.4" text-anchor="start" textLength="16" lengthAdjust="spacingAndGlyphs" transform="rotate(-90 307.1 495.2)" class="tk">HD1</text>
<text x="318.35" y="495.2" font-size="8.4" text-anchor="start" textLength="16" lengthAdjust="spacingAndGlyphs" transform="rotate(-90 318.35 495.2)" class="tk">HD2</text>
<text x="329.1" y="495.2" font-size="8.4" text-anchor="start" textLength="16" lengthAdjust="spacingAndGlyphs" transform="rotate(-90 329.1 495.2)" class="tk">PT2</text>
<text x="340.6" y="495.2" font-size="8.4" text-anchor="start" textLength="16" lengthAdjust="spacingAndGlyphs" transform="rotate(-90 340.6 495.2)" class="tk">PT3</text>
<text x="357.35" y="495.2" font-size="8.4" text-anchor="start" textLength="16" lengthAdjust="spacingAndGlyphs" transform="rotate(-90 357.35 495.2)" class="tk">HD1</text>
<text x="368.6" y="495.2" font-size="8.4" text-anchor="start" textLength="16" lengthAdjust="spacingAndGlyphs" transform="rotate(-90 368.6 495.2)" class="tk">HD2</text>
<text x="379.6" y="495.2" font-size="8.4" text-anchor="start" textLength="16" lengthAdjust="spacingAndGlyphs" transform="rotate(-90 379.6 495.2)" class="tk">PT2</text>
<text x="391.1" y="495.2" font-size="8.4" text-anchor="start" textLength="16" lengthAdjust="spacingAndGlyphs" transform="rotate(-90 391.1 495.2)" class="tk">PT3</text>
<text x="407.85" y="495.2" font-size="8.4" text-anchor="start" textLength="16" lengthAdjust="spacingAndGlyphs" transform="rotate(-90 407.85 495.2)" class="tk">HD1</text>
<text x="419.1" y="495.2" font-size="8.4" text-anchor="start" textLength="16" lengthAdjust="spacingAndGlyphs" transform="rotate(-90 419.1 495.2)" class="tk">HD2</text>
<text x="430.1" y="495.2" font-size="8.4" text-anchor="start" textLength="16" lengthAdjust="spacingAndGlyphs" transform="rotate(-90 430.1 495.2)" class="tk">PT2</text>
<text x="441.6" y="495.2" font-size="8.4" text-anchor="start" textLength="16" lengthAdjust="spacingAndGlyphs" transform="rotate(-90 441.6 495.2)" class="tk">PT3</text>
<text x="458.35" y="495.2" font-size="8.4" text-anchor="start" textLength="16" lengthAdjust="spacingAndGlyphs" transform="rotate(-90 458.35 495.2)" class="tk">HD1</text>
<text x="469.6" y="495.2" font-size="8.4" text-anchor="start" textLength="16" lengthAdjust="spacingAndGlyphs" transform="rotate(-90 469.6 495.2)" class="tk">HD2</text>
<text x="480.35" y="495.2" font-size="8.4" text-anchor="start" textLength="16" lengthAdjust="spacingAndGlyphs" transform="rotate(-90 480.35 495.2)" class="tk">PT2</text>
<text x="491.85" y="495.2" font-size="8.4" text-anchor="start" textLength="16" lengthAdjust="spacingAndGlyphs" transform="rotate(-90 491.85 495.2)" class="tk">PT3</text>
<line x1="302" y1="497.6" x2="345.5" y2="497.6" stroke="#000" stroke-width="1.4"/>
<line x1="353" y1="497.6" x2="396.25" y2="497.6" stroke="#000" stroke-width="1.4"/>
<line x1="403" y1="497.6" x2="446.5" y2="497.6" stroke="#000" stroke-width="1.4"/>
<line x1="454.25" y1="497.6" x2="497.5" y2="497.6" stroke="#000" stroke-width="1.4"/>
<text x="320.15" y="507" font-size="9.8" text-anchor="middle" textLength="7.16" lengthAdjust="spacingAndGlyphs" class="cb">10</text>
<text x="372.65" y="507" font-size="9.8" text-anchor="middle" textLength="7.58" lengthAdjust="spacingAndGlyphs" class="cb">50</text>
<text x="422.15" y="507" font-size="9.8" text-anchor="middle" textLength="7.16" lengthAdjust="spacingAndGlyphs" class="cb">10</text>
<text x="473.95" y="507" font-size="9.8" text-anchor="middle" textLength="7.58" lengthAdjust="spacingAndGlyphs" class="cb">50</text>
<line x1="301.25" y1="510.1" x2="396.25" y2="510.1" stroke="#000" stroke-width="1.5"/>
<line x1="402" y1="510.1" x2="495.75" y2="510.1" stroke="#000" stroke-width="1.5"/>
<text x="346.45" y="519.2" font-size="9.8" text-anchor="middle" textLength="16.1" lengthAdjust="spacingAndGlyphs" class="cb">ADA2</text>
<text x="448.95" y="519.2" font-size="9.8" text-anchor="middle" textLength="12.3" lengthAdjust="spacingAndGlyphs" class="cb">GFP</text>
<text x="500" y="507" font-size="9.8" text-anchor="start" textLength="11.9" lengthAdjust="spacingAndGlyphs" class="cb">MOI</text>
<text x="274.8" y="423.8" font-size="8.8" text-anchor="middle" textLength="41.5" lengthAdjust="spacingAndGlyphs" transform="rotate(-90 274.8 423.8)" class="yt">VCN / genome</text>
<text x="396.7" y="362.9" font-size="9.4" text-anchor="middle" textLength="26.2" lengthAdjust="spacingAndGlyphs">BFU-E</text>
<line x1="300" y1="370.35" x2="334.25" y2="370.35" stroke="#000" stroke-width="1.4"/>
<text x="318.2" y="368.4" font-size="6.2" text-anchor="middle" font-weight="bold" letter-spacing="1.3">**</text>
<line x1="301.25" y1="378.1" x2="325.5" y2="378.1" stroke="#000" stroke-width="1.4"/>
<text x="312.7" y="376.15" font-size="6.2" text-anchor="middle" font-weight="bold" letter-spacing="1.3">**</text>
<line x1="301.25" y1="385.1" x2="313" y2="385.1" stroke="#000" stroke-width="1.4"/>
<text x="306.75" y="384.15" font-size="6.2" text-anchor="middle" font-weight="bold">*</text>
<line x1="353.75" y1="370.35" x2="388.75" y2="370.35" stroke="#000" stroke-width="1.4"/>
<text x="371.45" y="368.4" font-size="6.2" text-anchor="middle" font-weight="bold" letter-spacing="1.3">**</text>
<line x1="353.75" y1="378.1" x2="365" y2="378.1" stroke="#000" stroke-width="1.4"/>
<text x="360.2" y="376.15" font-size="6.2" text-anchor="middle" font-weight="bold" letter-spacing="1.3">**</text>
<line x1="405.75" y1="370.35" x2="440" y2="370.35" stroke="#000" stroke-width="1.4"/>
<text x="423.2" y="368.4" font-size="6.2" text-anchor="middle" font-weight="bold" letter-spacing="1.3">**</text>
<line x1="405.75" y1="378.1" x2="429.25" y2="378.1" stroke="#000" stroke-width="1.4"/>
<text x="418.2" y="376.15" font-size="6.2" text-anchor="middle" font-weight="bold" letter-spacing="1.3">**</text>
<line x1="405.75" y1="385.35" x2="418" y2="385.35" stroke="#000" stroke-width="1.4"/>
<text x="411.25" y="384.15" font-size="6.2" text-anchor="middle" font-weight="bold">*</text>
<line x1="454.5" y1="370.35" x2="489" y2="370.35" stroke="#000" stroke-width="1.4"/>
<text x="471.75" y="367.9" font-size="6.2" text-anchor="middle" font-weight="bold">*</text>
<line x1="454.5" y1="378.1" x2="467.25" y2="378.1" stroke="#000" stroke-width="1.4"/>
<text x="461" y="376.4" font-size="6.2" text-anchor="middle" font-weight="bold">*</text>
<rect x="-4.42" y="-4.42" width="528.84" height="535.84" fill="none" stroke="#000" stroke-width="11.4"/>
</g>
</svg>
</body>
</html>
